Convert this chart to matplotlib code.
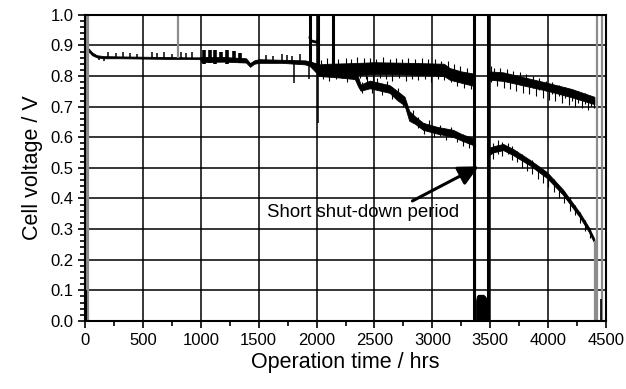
import matplotlib
matplotlib.use("Agg")
import matplotlib.pyplot as plt
from matplotlib.ticker import MultipleLocator

plt.rcParams['font.family'] = ['Liberation Sans', 'DejaVu Sans']

# ---- cell A (upper trace), before the shut-down: time, band low, band high
t_a = [30, 60, 100, 160, 300, 500, 700, 900, 995, 1005, 1200, 1390, 1425, 1460,
       1500, 1700, 1900, 1940, 2025, 2100, 2300, 2500, 2800, 3100, 3150, 3250, 3355]
lo_a = [0.880, 0.868, 0.861, 0.858, 0.858, 0.857, 0.856, 0.856, 0.855, 0.846,
        0.847, 0.844, 0.830, 0.840, 0.843, 0.843, 0.838, 0.833, 0.800, 0.800,
        0.803, 0.806, 0.805, 0.800, 0.788, 0.778, 0.768]
hi_a = [0.890, 0.877, 0.868, 0.865, 0.864, 0.863, 0.862, 0.861, 0.861, 0.862,
        0.862, 0.858, 0.842, 0.851, 0.855, 0.853, 0.851, 0.848, 0.838, 0.840,
        0.842, 0.845, 0.843, 0.840, 0.826, 0.815, 0.808]

# ---- cell B (lower trace), splits off after ~2300 hrs
t_b = [2025, 2200, 2330, 2360, 2380, 2460, 2630, 2700, 2760, 2800, 2850, 2920,
       3040, 3180, 3260, 3355]
lo_b = [0.800, 0.795, 0.790, 0.765, 0.752, 0.760, 0.745, 0.720, 0.704, 0.654,
        0.644, 0.624, 0.612, 0.601, 0.588, 0.574]
hi_b = [0.828, 0.828, 0.818, 0.795, 0.772, 0.785, 0.770, 0.750, 0.732, 0.686,
        0.668, 0.647, 0.634, 0.624, 0.609, 0.597]

# ---- after the shut-down
t_a2 = [3495, 3612, 3800, 3990, 4200, 4400]
lo_a2 = [0.788, 0.784, 0.768, 0.752, 0.731, 0.708]
hi_a2 = [0.815, 0.812, 0.795, 0.778, 0.758, 0.732]

t_b2 = [3495, 3530, 3612, 3700, 3843, 3990, 4129, 4275, 4350, 4400]
lo_b2 = [0.543, 0.551, 0.558, 0.541, 0.508, 0.467, 0.412, 0.338, 0.292, 0.254]
hi_b2 = [0.566, 0.571, 0.578, 0.561, 0.526, 0.486, 0.429, 0.353, 0.307, 0.268]

# ---- short shut-down period (black blob near 0)
t_off = [3365, 3375, 3385, 3395, 3410, 3425, 3440, 3455, 3470, 3480]
v_off = [0.03, 0.06, 0.08, 0.085, 0.085, 0.085, 0.085, 0.08, 0.07, 0.03]

# ---- needles in the noisy parts: time, lowest, highest reading
nA_t = [2035, 2058, 2090, 2104, 2131, 2170, 2188, 2215, 2251, 2266, 2298, 2330,
        2347, 2379, 2410, 2428, 2462, 2489, 2515, 2547, 2570, 2602, 2631, 2649,
        2683, 2712, 2738, 2770, 2790, 2826, 2851, 2880, 2911, 2937, 2965, 2990,
        3021, 3046, 3077, 3102, 3131, 3160, 3184, 3215, 3242, 3270, 3301, 3330]
nA_lo = [0.800, 0.790, 0.820, 0.785, 0.820, 0.790, 0.820, 0.795, 0.820, 0.780,
         0.820, 0.790, 0.820, 0.795, 0.820, 0.790, 0.820, 0.785, 0.820, 0.793,
         0.820, 0.790, 0.820, 0.785, 0.820, 0.792, 0.820, 0.785, 0.820, 0.790,
         0.820, 0.787, 0.820, 0.790, 0.820, 0.782, 0.820, 0.790, 0.820, 0.786,
         0.815, 0.780, 0.805, 0.768, 0.800, 0.762, 0.790, 0.758]
nA_hi = [0.852, 0.835, 0.858, 0.830, 0.862, 0.830, 0.855, 0.830, 0.860, 0.825,
         0.857, 0.830, 0.862, 0.830, 0.858, 0.830, 0.860, 0.830, 0.856, 0.830,
         0.862, 0.830, 0.855, 0.830, 0.860, 0.830, 0.857, 0.830, 0.860, 0.830,
         0.855, 0.830, 0.858, 0.830, 0.854, 0.830, 0.857, 0.830, 0.850, 0.830,
         0.848, 0.820, 0.840, 0.810, 0.832, 0.800, 0.825, 0.800]

nB_t = [2395, 2437, 2478, 2521, 2566, 2612, 2655, 2703, 2744, 2832, 2878, 2925,
        2968, 3012, 3066, 3118, 3163, 3214, 3265, 3318]
nB_lo = [0.745, 0.770, 0.745, 0.760, 0.738, 0.755, 0.725, 0.735, 0.700, 0.645,
         0.630, 0.610, 0.620, 0.600, 0.605, 0.590, 0.600, 0.585, 0.572, 0.565]
nB_hi = [0.780, 0.800, 0.780, 0.795, 0.775, 0.785, 0.765, 0.762, 0.735, 0.690,
         0.665, 0.648, 0.655, 0.635, 0.640, 0.628, 0.632, 0.615, 0.610, 0.600]

nA2_t = [3508, 3533, 3561, 3587, 3619, 3641, 3672, 3698, 3725, 3757, 3782, 3811,
         3839, 3866, 3894, 3921, 3953, 3979, 4006, 4035, 4061, 4092, 4120, 4148,
         4177, 4203, 4234, 4260, 4289, 4318, 4344, 4372, 4398]
nA2_lo = [0.780, 0.795, 0.768, 0.790, 0.762, 0.785, 0.758, 0.780, 0.750, 0.775,
          0.746, 0.770, 0.740, 0.762, 0.735, 0.755, 0.728, 0.750, 0.722, 0.742,
          0.720, 0.735, 0.712, 0.728, 0.705, 0.720, 0.700, 0.712, 0.695, 0.708,
          0.690, 0.702, 0.695]
nA2_hi = [0.832, 0.826, 0.810, 0.825, 0.800, 0.822, 0.800, 0.818, 0.790, 0.812,
          0.790, 0.805, 0.780, 0.800, 0.770, 0.792, 0.770, 0.785, 0.760, 0.780,
          0.755, 0.772, 0.750, 0.765, 0.745, 0.758, 0.740, 0.750, 0.732, 0.745,
          0.728, 0.735, 0.725]

nB2_t = [3525, 3566, 3604, 3651, 3689, 3734, 3778, 3822, 3865, 3911, 3957, 4003,
         4049, 4096, 4140, 4188, 4232, 4279, 4321, 4366]
nB2_lo = [0.530, 0.545, 0.540, 0.545, 0.525, 0.520, 0.500, 0.490, 0.480, 0.462,
          0.450, 0.438, 0.420, 0.402, 0.385, 0.360, 0.345, 0.320, 0.295, 0.270]
nB2_hi = [0.580, 0.590, 0.585, 0.580, 0.570, 0.555, 0.545, 0.530, 0.525, 0.505,
          0.490, 0.480, 0.462, 0.440, 0.425, 0.405, 0.380, 0.355, 0.330, 0.305]

# ---- isolated needles before 2000 hrs: (time, from, to)
spikes = [(200, 0.86, 0.878), (270, 0.86, 0.874), (330, 0.86, 0.88),
          (390, 0.86, 0.876), (450, 0.86, 0.872), (580, 0.86, 0.879),
          (620, 0.86, 0.876), (680, 0.86, 0.88), (750, 0.86, 0.873),
          (830, 0.86, 0.878), (870, 0.86, 0.875), (925, 0.86, 0.877),
          (120, 0.865, 0.852), (160, 0.862, 0.850), (1560, 0.85, 0.87),
          (1620, 0.85, 0.866), (1700, 0.85, 0.872), (1745, 0.85, 0.868),
          (1785, 0.85, 0.866), (1860, 0.85, 0.872), (1805, 0.84, 0.778),
          (1938, 0.84, 0.79), (2013, 0.82, 0.647)]
blocks = [(1025, 0.84, 0.886), (1075, 0.842, 0.884), (1125, 0.84, 0.885),
          (1170, 0.845, 0.88), (1230, 0.84, 0.884), (1285, 0.845, 0.882),
          (1340, 0.842, 0.876)]
# off-scale excursions (black) and stray readings (grey)
offscale_t = [1943, 2012, 2142, 3360, 3485]
offscale_lo = [0.84, 0.82, 0.82, 0.0, 0.0]
grey_t = [12, 25, 806, 3372, 3492, 4405, 4422, 4468]
grey_lo = [0.0, 0.0, 0.86, 0.0, 0.0, 0.0, 0.0, 0.0]
grey_hi = [1.0, 1.0, 1.0, 0.62, 0.55, 0.26, 1.0, 1.0]
# plateau between the two off-scale lines near 2000 hrs
plateau_t = [1943, 1950, 2005, 2012]
plateau_v = [0.925, 0.915, 0.91, 0.92]

fig = plt.figure(figsize=(6.26, 3.89), dpi=100)
ax = fig.add_axes([0.136, 0.175, 0.832, 0.787])

ax.grid(True, which='major', color='black', lw=1.1)
ax.set_axisbelow(True)

for x, y0, y1 in zip(grey_t, grey_lo, grey_hi):
    ax.vlines(x, y0, y1, color='#8c8c8c', lw=1.6)
ax.vlines(8, 0.0, 0.1, color='black', lw=1.5)
ax.vlines(4460, 0.0, 0.07, color='black', lw=1.2)

for t, lo, hi in [(t_a, lo_a, hi_a), (t_b, lo_b, hi_b),
                  (t_a2, lo_a2, hi_a2), (t_b2, lo_b2, hi_b2)]:
    ax.fill_between(t, lo, hi, color='black', lw=0.6, edgecolor='black')

for t, lo, hi in [(nA_t, nA_lo, nA_hi), (nB_t, nB_lo, nB_hi),
                  (nA2_t, nA2_lo, nA2_hi), (nB2_t, nB2_lo, nB2_hi)]:
    ax.vlines(t, lo, hi, color='black', lw=0.8)

for x, y0, y1 in spikes:
    ax.vlines(x, min(y0, y1), max(y0, y1), color='black', lw=1.1)
for x, y0, y1 in blocks:
    ax.vlines(x, y0, y1, color='black', lw=2.6)
for x, lo in zip(offscale_t, offscale_lo):
    ax.vlines(x, lo, 1.0, color='black', lw=2.2)
ax.plot(plateau_t, plateau_v, color='black', lw=2)
ax.fill_between(t_off, 0, v_off, color='black', lw=0.8)

ax.annotate('Short shut-down period', xy=(3400, 0.505), xytext=(1570, 0.355),
            fontsize=13.4, va='center', ha='left',
            arrowprops=dict(arrowstyle='-|>,head_length=0.9,head_width=0.45',
                            color='black', lw=2.2, shrinkA=0, shrinkB=0,
                            relpos=(0.73, 1.0)))

ax.set_xlim(0, 4500)
ax.set_ylim(0.0, 1.0)
ax.xaxis.set_major_locator(MultipleLocator(500))
ax.xaxis.set_minor_locator(MultipleLocator(250))
ax.yaxis.set_major_locator(MultipleLocator(0.1))
ax.yaxis.set_minor_locator(MultipleLocator(0.02))
ax.yaxis.set_major_formatter(plt.FormatStrFormatter('%.1f'))
ax.tick_params(which='both', direction='out', labelsize=12, width=1.2)
ax.tick_params(which='major', length=5)
ax.tick_params(which='minor', length=3.5)
for s in ax.spines.values():
    s.set_linewidth(1.5)

ax.set_xlabel('Operation time / hrs', fontsize=15.5, labelpad=3)
ax.set_ylabel('Cell voltage / V', fontsize=15.5, labelpad=5)

fig.savefig('out.png', dpi=100)
